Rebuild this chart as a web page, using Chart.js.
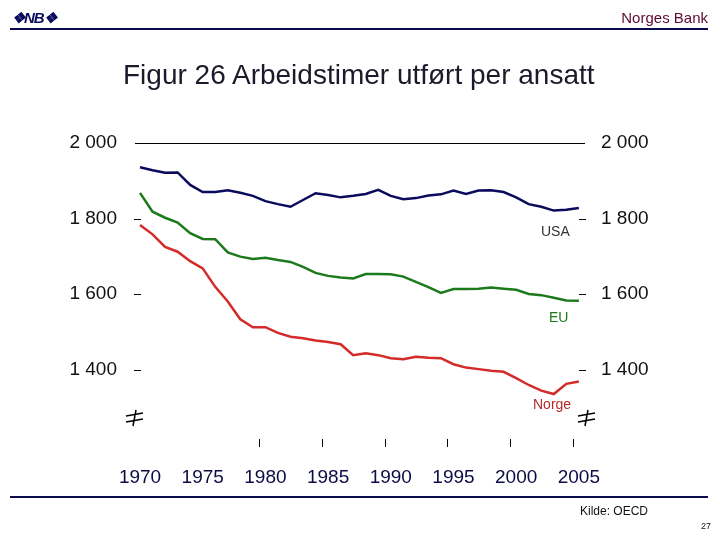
<!DOCTYPE html>
<html>
<head>
<meta charset="utf-8">
<script src="https://cdn.jsdelivr.net/npm/chart.js@4.4.1/dist/chart.umd.min.js"></script>
<style>
  body { margin: 0; background: #fff; font-family: "Liberation Sans", Arial, sans-serif; }
  #page { position: relative; width: 720px; height: 540px; overflow: hidden; }
  #c { position: absolute; left: 0; top: 0; }
  .txt { position: absolute; white-space: nowrap; }
</style>
</head>
<body>
<div id="page">
  <canvas id="c" width="720" height="540"></canvas>
  <div class="txt" style="left:12px;top:9px;font-size:15px;font-weight:bold;font-style:italic;color:#0b0b5e;letter-spacing:-1px;">&#10070;NB&#10070;</div>
  <div class="txt" style="right:12px;top:9px;font-size:15px;color:#5c0a2e;">Norges Bank</div>
  <div style="position:absolute;left:10px;top:28px;width:698px;height:2px;background:#0b0b4e;"></div>
  <div class="txt" style="left:123px;top:59px;font-size:28px;color:#1a1a2a;">Figur 26 Arbeidstimer utført per ansatt</div>
  <div class="txt" style="left:541px;top:223px;font-size:14px;color:#333;">USA</div>
  <div class="txt" style="left:549px;top:309px;font-size:14px;color:#1c7a1c;">EU</div>
  <div class="txt" style="left:533px;top:396px;font-size:14px;color:#b52a2a;">Norge</div>
  <div style="position:absolute;left:10px;top:496px;width:698px;height:2px;background:#0b0b4e;"></div>
  <div class="txt" style="left:580px;top:504px;font-size:12px;color:#111;">Kilde: OECD</div>
  <div class="txt" style="right:9px;top:521px;font-size:9px;color:#111;">27</div>
</div>
<script>
const years = [];
for (let y = 1970; y <= 2005; y++) years.push(y);

const usa = [1936, 1928, 1921, 1922, 1889, 1870, 1870, 1875, 1868, 1860,
             1846, 1838, 1831, 1849, 1867, 1862, 1856, 1860, 1865, 1876,
             1860, 1851, 1854, 1861, 1864, 1874, 1865, 1874, 1875, 1870,
             1856, 1838, 1831, 1821, 1823, 1828];
const eu = [1868, 1818, 1802, 1789, 1761, 1746, 1745, 1710, 1699, 1693,
            1696, 1690, 1685, 1672, 1656, 1648, 1644, 1641, 1653, 1653,
            1652, 1646, 1632, 1618, 1603, 1613, 1613, 1614, 1617, 1614,
            1611, 1600, 1597, 1590, 1583, 1582];
const norge = [1783, 1758, 1725, 1712, 1687, 1668, 1619, 1580, 1533, 1512,
               1512, 1497, 1487, 1483, 1477, 1473, 1467, 1438, 1443, 1438,
               1430, 1427, 1434, 1431, 1430, 1414, 1405, 1401, 1397, 1394,
               1377, 1359, 1344, 1335, 1362, 1368];

const xLabels = [1970, 1975, 1980, 1985, 1990, 1995, 2000, 2005];
const xTickMarks = [1980, 1985, 1990, 1995, 2000, 2005];
const yLabels = [1400, 1600, 1800, 2000];

function pts(vals) {
  return vals.map((v, i) => ({ x: years[i], y: v }));
}
function fmt(v) {
  return String(v).replace(/\B(?=(\d{3})+(?!\d))/g, ' ');
}

const decor = {
  id: 'decor',
  afterDraw(chart) {
    const ctx = chart.ctx;
    const a = chart.chartArea;
    const ys = chart.scales.y;
    const xs = chart.scales.x;
    ctx.save();
    ctx.strokeStyle = '#000';
    ctx.lineWidth = 1;
    // top line at 2000
    const yTop = Math.round(ys.getPixelForValue(2000)) + 0.5;
    ctx.beginPath();
    ctx.moveTo(a.left, yTop);
    ctx.lineTo(a.right, yTop);
    ctx.stroke();
    // small dashes at the other y ticks
    yLabels.filter(v => v !== 2000).forEach(v => {
      const py = Math.round(ys.getPixelForValue(v)) + 0.5;
      ctx.beginPath();
      ctx.moveTo(a.left - 1, py); ctx.lineTo(a.left + 6, py);
      ctx.moveTo(a.right - 6, py); ctx.lineTo(a.right + 1, py);
      ctx.stroke();
    });
    // x tick marks between categories
    xTickMarks.forEach(v => {
      const px = Math.round(xs.getPixelForValue(v - 0.5)) + 0.5;
      ctx.beginPath();
      ctx.moveTo(px, a.bottom - 6);
      ctx.lineTo(px, a.bottom + 2);
      ctx.stroke();
    });
    // axis break marks
    ctx.lineWidth = 1.5;
    [a.left, a.right + 2].forEach(bx => {
      const by = a.bottom - 27;
      ctx.beginPath();
      ctx.moveTo(bx + 1, by - 8); ctx.lineTo(bx - 2, by + 8);
      ctx.moveTo(bx - 9, by - 2); ctx.lineTo(bx + 8, by - 5);
      ctx.moveTo(bx - 9, by + 4); ctx.lineTo(bx + 8, by + 1);
      ctx.stroke();
    });
    ctx.restore();
  }
};

const yCommon = {
  type: 'linear',
  min: 1200,
  max: 2000,
  grid: { display: false },
  border: { display: false },
  afterBuildTicks: s => { s.ticks = yLabels.map(v => ({ value: v })); },
  ticks: {
    color: '#111',
    font: { family: 'Liberation Sans', size: 19 },
    callback: v => fmt(v)
  }
};

new Chart(document.getElementById('c'), {
  type: 'line',
  data: {
    datasets: [
      { label: 'USA', data: pts(usa), borderColor: '#0b0b5e', borderWidth: 2.5 },
      { label: 'EU', data: pts(eu), borderColor: '#1c7a1c', borderWidth: 2.5 },
      { label: 'Norge', data: pts(norge), borderColor: '#d42a2a', borderWidth: 2.5 }
    ]
  },
  options: {
    responsive: false,
    animation: false,
    devicePixelRatio: 1,
    elements: { point: { radius: 0 }, line: { tension: 0 } },
    layout: { padding: { left: 30, right: 35, top: 143, bottom: 35 } },
    plugins: { legend: { display: false }, tooltip: { enabled: false } },
    scales: {
      x: {
        type: 'linear',
        min: 1969.6,
        max: 2005.49,
        grid: { display: false },
        border: { display: false },
        afterBuildTicks: s => { s.ticks = xLabels.map(v => ({ value: v })); },
        afterFit: s => { s.height = 60; },
        ticks: {
          color: '#0b0b45',
          padding: 13,
          maxRotation: 0,
          font: { family: 'Liberation Sans', size: 19 },
          callback: v => String(v)
        }
      },
      y: Object.assign({}, yCommon, {
        position: 'left',
        afterFit: s => { s.width = 105; },
        ticks: Object.assign({}, yCommon.ticks, { padding: 10 })
      }),
      y2: Object.assign({}, yCommon, {
        position: 'right',
        afterFit: s => { s.width = 100; },
        ticks: Object.assign({}, yCommon.ticks, { padding: 8 })
      })
    }
  },
  plugins: [decor]
});
</script>
</body>
</html>
